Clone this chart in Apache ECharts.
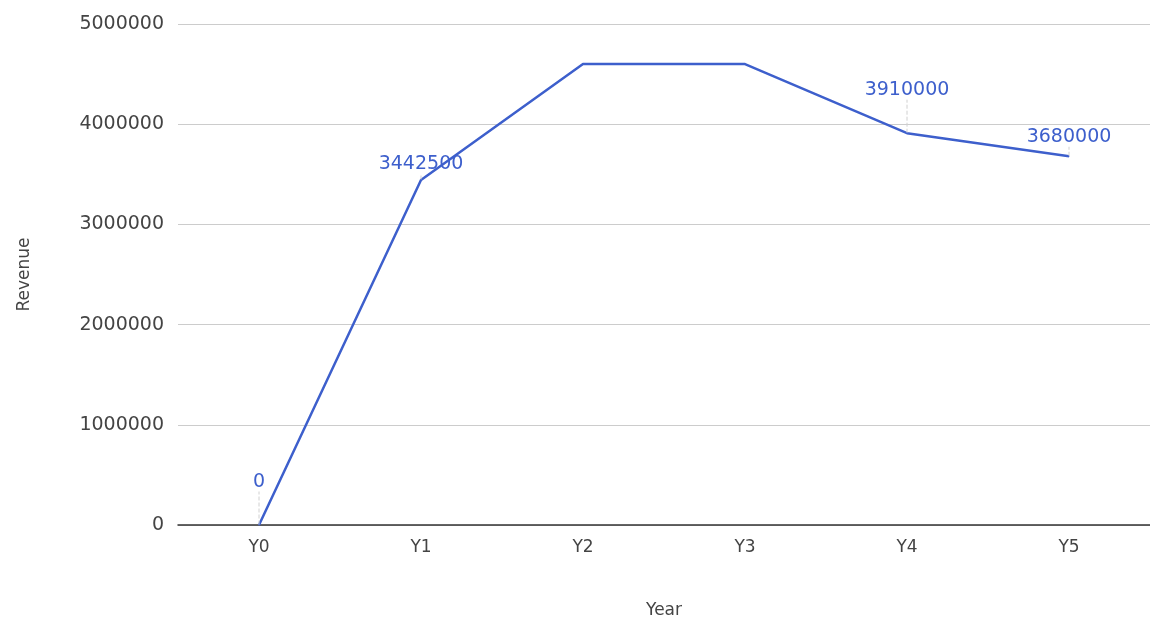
<!DOCTYPE html>
<html>
<head>
<meta charset="utf-8">
<script src="https://cdn.jsdelivr.net/npm/echarts@6/dist/echarts.min.js"></script>
<style>
html,body{margin:0;padding:0;background:#fff;}
#chart{width:1150px;height:624px;}
</style>
</head>
<body>
<div id="chart"></div>
<script>
const categories = ['Y0', 'Y1', 'Y2', 'Y3', 'Y4', 'Y5'];
const revenue = [0, 3442500, 4600000, 4600000, 3910000, 3680000];
const labelShown = [true, true, false, false, true, true];
const yTicks = [0, 1000000, 2000000, 3000000, 4000000, 5000000];

const labelDy = [-28, -1, 0, 0, -28, -4];
const FONT = 'DejaVu Sans';
const chart = echarts.init(document.getElementById('chart'));
chart.setOption({
  backgroundColor: '#fff',
  animation: false,
  grid: { left: 178, top: 24, width: 975, bottom: 95, containLabel: false },
  xAxis: {
    type: 'category',
    data: categories,
    boundaryGap: true,
    name: 'Year',
    nameLocation: 'middle',
    nameGap: 77,
    nameTextStyle: { fontFamily: FONT, fontSize: 17, color: '#444' },
    axisLine: { show: true, lineStyle: { color: '#333', width: 1.5 } },
    axisTick: { show: false },
    axisLabel: { fontFamily: FONT, fontSize: 17, color: '#444', margin: 14 },
    splitLine: { show: false }
  },
  yAxis: {
    type: 'value',
    min: yTicks[0],
    max: yTicks[yTicks.length - 1],
    interval: yTicks[1] - yTicks[0],
    name: 'Revenue',
    nameLocation: 'middle',
    nameGap: 145,
    nameRotate: 90,
    nameTextStyle: { fontFamily: FONT, fontSize: 17, color: '#444' },
    axisLine: { show: false },
    axisTick: { show: false },
    axisLabel: { fontFamily: FONT, fontSize: 19, color: '#444', margin: 14, formatter: v => String(v) },
    splitLine: { show: true, lineStyle: { color: '#cccccc', width: 1 } }
  },
  series: [{
    type: 'line',
    data: revenue.map((v, i) => ({ value: v, label: { show: labelShown[i] } })),
    symbol: 'circle',
    symbolSize: 1,
    showSymbol: true,
    lineStyle: { color: '#3d5fcc', width: 2.5 },
    itemStyle: { color: '#3d5fcc' },
    label: {
      show: true,
      position: 'top',
      distance: 5,
      fontFamily: FONT,
      fontSize: 19,
      color: '#3d5fcc',
      formatter: p => String(p.value)
    },
    labelLine: { show: true, lineStyle: { color: '#d0d0d0', width: 1, type: 'dashed' } },
    labelLayout: function (params) {
      return { dy: labelDy[params.dataIndex] };
    }
  }]
});
</script>
</body>
</html>
